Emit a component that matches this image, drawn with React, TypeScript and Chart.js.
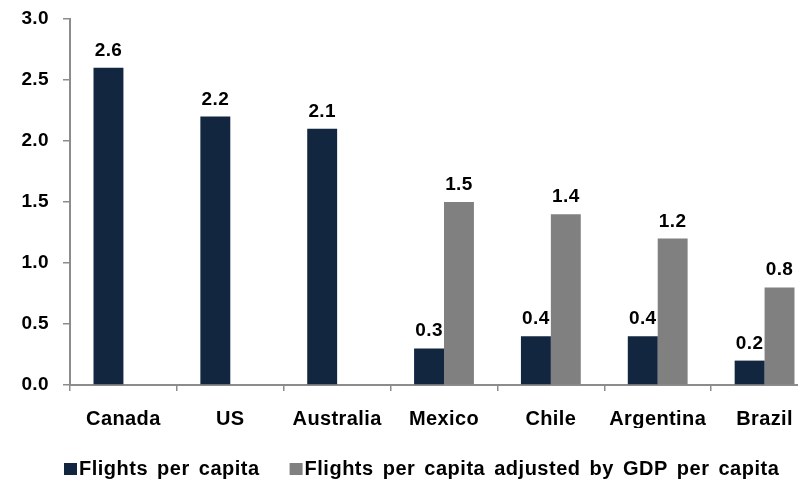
import React, { useEffect, useRef } from "react";
import { Chart, registerables } from "chart.js";

Chart.register(...registerables);

const countries = ["Canada", "US", "Australia", "Mexico", "Chile", "Argentina", "Brazil"];
const flightsPerCapita = [2.6, 2.2, 2.1, 0.3, 0.4, 0.4, 0.2];
const flightsAdjusted: (number | null)[] = [null, null, null, 1.5, 1.4, 1.2, 0.8];
const yTicks = [0, 0.5, 1.0, 1.5, 2.0, 2.5, 3.0];

const NAVY = "#13263f";
const GREY = "#808080";
const AXIS = "#8c8c8c";
const FONT = "'Liberation Sans', Arial, sans-serif";

// Slightly loose letter spacing for all canvas text
const textSpacing = {
  id: "textSpacing",
  beforeInit(chart: any) {
    chart.ctx.letterSpacing = "0.4px";
  },
  beforeDraw(chart: any) {
    chart.ctx.letterSpacing = "0.4px";
  },
};

// Value labels above each bar
const valueLabels = {
  id: "valueLabels",
  afterDatasetsDraw(chart: any) {
    const ctx = chart.ctx;
    ctx.save();
    ctx.font = `bold 19px ${FONT}`;
    ctx.letterSpacing = "0.4px";
    ctx.fillStyle = "#000";
    ctx.textAlign = "center";
    ctx.textBaseline = "alphabetic";
    chart.data.datasets.forEach((ds: any, di: number) => {
      const meta = chart.getDatasetMeta(di);
      meta.data.forEach((bar: any, i: number) => {
        const v = ds.data[i];
        if (v == null) return;
        ctx.fillText(v.toFixed(1), bar.x, bar.y - 12);
      });
    });
    ctx.restore();
  },
};

// Legend row along the bottom edge, built from the datasets
const bottomLegend = {
  id: "bottomLegend",
  afterDraw(chart: any) {
    const ctx = chart.ctx;
    ctx.save();
    ctx.font = `bold 20px ${FONT}`;
    ctx.letterSpacing = "0.5px";
    ctx.wordSpacing = "3px";
    ctx.textBaseline = "middle";
    ctx.textAlign = "left";
    let x = chart.chartArea.left - 6;
    const y = chart.height - 11;
    chart.data.datasets.forEach((ds: any) => {
      ctx.fillStyle = ds.backgroundColor;
      ctx.fillRect(x, y - 6, 13, 12);
      x += 15;
      ctx.fillStyle = "#000";
      ctx.fillText(ds.label, x, y);
      x += ctx.measureText(ds.label).width + 30;
    });
    ctx.restore();
  },
};

export default function App() {
  const ref = useRef<HTMLCanvasElement>(null);

  useEffect(() => {
    if (!ref.current) return;
    const chart = new Chart(ref.current, {
      type: "bar",
      data: {
        labels: countries,
        datasets: [
          {
            label: "Flights per capita",
            data: flightsPerCapita,
            backgroundColor: NAVY,
            barPercentage: 1,
            categoryPercentage: 0.56,
          },
          {
            label: "Flights per capita adjusted by GDP per capita",
            data: flightsAdjusted,
            backgroundColor: GREY,
            barPercentage: 1,
            categoryPercentage: 0.56,
          },
        ],
      },
      options: {
        responsive: false,
        animation: false,
        devicePixelRatio: 1,
        layout: { padding: { top: 19, right: 20, left: 0, bottom: 52 } },
        plugins: {
          tooltip: { enabled: false },
          legend: { display: false },
        },
        scales: {
          x: {
            grid: {
              display: true,
              drawOnChartArea: false,
              tickLength: 6,
              color: AXIS,
              lineWidth: 1.5,
            },
            border: { color: AXIS, width: 2 },
            ticks: {
              font: { family: FONT, size: 20, weight: "bold" },
              color: "#000",
              padding: 16,
            },
            afterFit: (s: any) => {
              s.height = 43;
            },
          },
          y: {
            min: 0,
            max: 3,
            afterBuildTicks: (s: any) => {
              s.ticks = yTicks.map((v) => ({ value: v }));
            },
            grid: {
              display: true,
              drawOnChartArea: false,
              tickLength: 7,
              color: AXIS,
              lineWidth: 1.5,
            },
            border: { color: AXIS, width: 2 },
            ticks: {
              font: { family: FONT, size: 19, weight: "bold" },
              color: "#000",
              padding: 14,
              callback: (v: any) => Number(v).toFixed(1),
            },
            afterFit: (s: any) => {
              s.width = 70;
              s.paddingTop = 0;
              s.paddingBottom = 0;
            },
          },
        },
      },
      plugins: [textSpacing, valueLabels, bottomLegend],
    });
    return () => chart.destroy();
  }, []);

  return (
    <div
      style={{
        position: "fixed",
        left: 0,
        top: 0,
        width: 798,
        height: 480,
        overflow: "hidden",
        background: "#fff",
      }}
    >
      <canvas ref={ref} width={838} height={480} style={{ width: 838, height: 480 }} />
    </div>
  );
}
